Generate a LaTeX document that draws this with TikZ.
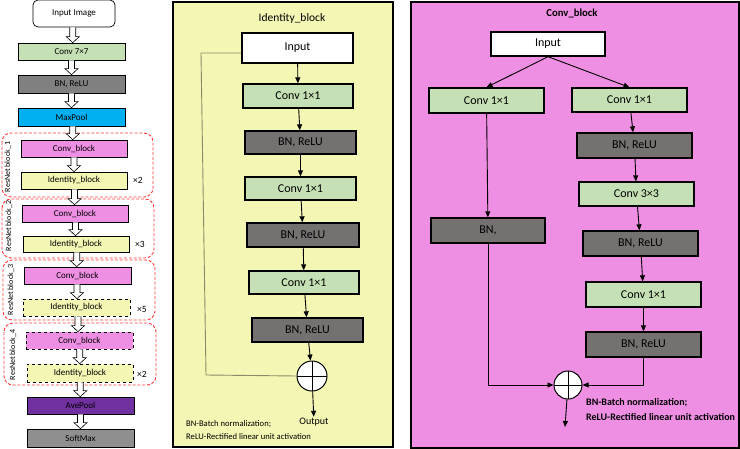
\documentclass[tikz,border=0pt]{standalone}
\usepackage{fontspec}
\setmainfont{Carlito}
\usetikzlibrary{arrows.meta,calc}

\definecolor{convgreen}{HTML}{C5E0B4}
\definecolor{bngray}{HTML}{767171}
\definecolor{leftgray}{HTML}{808080}
\definecolor{smgray}{HTML}{8F8F8F}
\definecolor{poolblue}{HTML}{00B0F0}
\definecolor{pooppurple}{HTML}{7030A0}
\definecolor{cbpink}{HTML}{EE8FE3}
\definecolor{idyellow}{HTML}{F4F6B4}
\definecolor{boxred}{HTML}{FF3B3B}
\definecolor{skipgray}{HTML}{8A8A6A}

% hollow arrow between two boxes of the left column
\newcommand{\hollowarrow}[2]{%
  \draw[harrow] let \p1=(#1.south), \p2=(#2.north), \p3=($(\p1)!0.5!(\p2)$) in
    (\x3-3pt,\y1) -- (\x3-3pt,\y2+6pt) -- (\x3-6.5pt,\y2+6pt) -- (\x3,\y2)
    -- (\x3+6.5pt,\y2+6pt) -- (\x3+3pt,\y2+6pt) -- (\x3+3pt,\y1);
}

\begin{document}
\begin{tikzpicture}[x=1pt,y=-1pt,
  lbox/.style={draw,line width=0.7pt,minimum width=107pt,minimum height=17pt,inner sep=0pt,font=\fontsize{9}{10}\selectfont},
  pbox/.style={draw,line width=1.3pt,minimum width=112pt,minimum height=24pt,inner sep=0pt,font=\fontsize{12}{13}\selectfont},
  sumnode/.style={draw,line width=1pt,circle,fill=white,minimum size=30pt,inner sep=0pt,
    path picture={\draw[line width=0.6pt] (path picture bounding box.north) -- (path picture bounding box.south)
      (path picture bounding box.west) -- (path picture bounding box.east);}},
  flow/.style={-{Triangle[length=6pt,width=5pt]},line width=0.9pt},
  harrow/.style={fill=white,line width=0.6pt},
  redbox/.style={draw=boxred,dash pattern=on 3pt off 1.8pt,line width=0.9pt,rounded corners=9pt},
  panel/.style={draw,line width=1.3pt},
  skipline/.style={draw=skipgray,line width=0.9pt},
  note/.style={anchor=west,inner sep=0pt,font=\fontsize{8.6}{10}\selectfont},
  blocklabel/.style={rotate=90,font=\fontsize{8}{9}\selectfont},
]
\useasboundingbox (0,0) rectangle (740,448);

% left column
\draw[redbox] (2,133) rectangle (153,197);
\draw[redbox] (2,199) rectangle (154,258);
\draw[redbox] (3,260) rectangle (155,320);
\draw[redbox] (4,323) rectangle (156,385);
\node[blocklabel] at (8,167) {ResNet block\_1};
\node[blocklabel] at (9,226) {ResNet block\_2};
\node[blocklabel] at (11,290) {ResNet block\_3};
\node[blocklabel] at (13,355) {ResNet block\_4};

\node[lbox,fill=white,rounded corners=5pt,minimum width=82pt,minimum height=27pt] (img) at (74,13.5) {Input Image};
\node[lbox,fill=convgreen] (c7) at (71.5,51.5) {Conv 7×7};
\node[lbox,fill=leftgray,minimum height=18pt] (bn0) at (71.5,84) {BN, ReLU};
\node[lbox,fill=poolblue,minimum height=18pt] (mp) at (71.5,117) {MaxPool};
\node[lbox,fill=cbpink,minimum width=106pt] (cb1) at (74,148.5) {Conv\_block};
\node[lbox,fill=idyellow,minimum width=106pt] (ib1) at (74,180.5) {Identity\_block};
\node[lbox,fill=cbpink,minimum width=106pt] (cb2) at (75,213.5) {Conv\_block};
\node[lbox,fill=idyellow,minimum width=106pt,minimum height=16pt] (ib2) at (76,244) {Identity\_block};
\node[lbox,fill=cbpink] (cb3) at (77.5,275.5) {Conv\_block};
\node[lbox,fill=idyellow,dashed] (ib3) at (76.5,307.5) {Identity\_block};
\node[lbox,fill=cbpink,dashed] (cb4) at (79.5,340.5) {Conv\_block};
\node[lbox,fill=idyellow,dashed,minimum width=106pt,minimum height=18pt] (ib4) at (80,373) {Identity\_block};
\node[lbox,fill=pooppurple] (ap) at (80.5,405.5) {AvePool};
\node[lbox,fill=smgray,minimum height=18pt] (sm) at (80.5,438) {SoftMax};

\node[font=\fontsize{9.5}{10}\selectfont] (rep1) at (138,180) {×2};
\node[font=\fontsize{9.5}{10}\selectfont] (rep2) at (140,244) {×3};
\node[font=\fontsize{9.5}{10}\selectfont] (rep3) at (142,309) {×5};
\node[font=\fontsize{9.5}{10}\selectfont] (rep4) at (142,374) {×2};

\hollowarrow{img}{c7}
\hollowarrow{c7}{bn0}
\hollowarrow{bn0}{mp}
\hollowarrow{mp}{cb1}
\hollowarrow{cb1}{ib1}
\hollowarrow{ib1}{cb2}
\hollowarrow{cb2}{ib2}
\hollowarrow{ib2}{cb3}
\hollowarrow{cb3}{ib3}
\hollowarrow{ib3}{cb4}
\hollowarrow{cb4}{ib4}
\hollowarrow{ib4}{ap}
\hollowarrow{ap}{sm}

% identity block
\draw[panel,fill=idyellow] (173,2) rectangle (393,447);
\node[font=\fontsize{11.5}{12}\selectfont] (idtitle) at (292,18) {Identity\_block};
\node[pbox,fill=white,minimum width=111pt,minimum height=30pt] (idin) at (297.5,48) {Input};
\node[pbox,fill=convgreen,minimum width=110pt] (idconvA) at (298,96) {Conv 1×1};
\node[pbox,fill=bngray,minimum width=111pt,minimum height=23pt] (idbnA) at (300.5,142.5) {BN, ReLU};
\node[pbox,fill=convgreen,minimum width=111pt,minimum height=23pt] (idconvB) at (300.5,188.5) {Conv 1×1};
\node[pbox,fill=bngray] (idbnB) at (303,235) {BN, ReLU};
\node[pbox,fill=convgreen,minimum width=110pt,minimum height=23pt] (idconvC) at (304,282.5) {Conv 1×1};
\node[pbox,fill=bngray,minimum width=111pt] (idbnC) at (307.5,330) {BN, ReLU};
\node[sumnode] (idsum) at (312,376) {};
\node[font=\fontsize{10}{11}\selectfont,inner sep=1pt] (idout) at (314,422) {Output};
\coordinate (skipA) at (201,53);
\coordinate (skipB) at (206,375);

\draw[flow] (idin) -- (idconvA);
\draw[flow] (idconvA) -- (idbnA);
\draw[flow] (idbnA) -- (idconvB);
\draw[flow] (idconvB) -- (idbnB);
\draw[flow] (idbnB) -- (idconvC);
\draw[flow] (idconvC) -- (idbnC);
\draw[flow] (idbnC) -- (idsum);
\draw[flow] (idsum) -- (idout);
\draw[skipline] ([yshift=-5pt]idin.west) -- (skipA) -- (skipB) -- (idsum.west);

\node[note] (idnoteA) at (186,424) {BN-Batch normalization;};
\node[note] (idnoteB) at (186,437) {ReLU-Rectified linear unit activation};

% conv block
\draw[panel,fill=cbpink] (411,2) rectangle (739,448);
\node[font=\bfseries\fontsize{10.7}{11}\selectfont] (cvtitle) at (572,13) {Conv\_block};
\node[pbox,fill=white,minimum width=114pt] (cvin) at (548,44) {Input};
\node[pbox,fill=convgreen,minimum width=115pt,minimum height=25pt] (cvL1) at (486.5,100.5) {Conv 1×1};
\node[pbox,fill=bngray,minimum width=114pt,minimum height=25pt] (cvL2) at (488,230.5) {BN,};
\node[pbox,fill=convgreen,minimum width=115pt] (cvR1) at (629.5,100) {Conv 1×1};
\node[pbox,fill=bngray,minimum width=115pt,minimum height=25pt] (cvR2) at (634.5,145.5) {BN, ReLU};
\node[pbox,fill=convgreen,minimum width=115pt] (cvR3) at (636.5,194) {Conv 3×3};
\node[pbox,fill=bngray,minimum width=115pt,minimum height=25pt] (cvR4) at (640.5,243.5) {BN, ReLU};
\node[pbox,fill=convgreen,minimum width=115pt,minimum height=25pt] (cvR5) at (643.5,294.5) {Conv 1×1};
\node[pbox,fill=bngray,minimum width=115pt,minimum height=25pt] (cvR6) at (643.5,344.5) {BN, ReLU};
\node[sumnode,minimum size=28pt] (cvsum) at (568,385) {};
\coordinate (cvout) at (565,427);

\draw[flow] (cvin.south) -- (cvL1.north);
\draw[flow] (cvin.south) -- (cvR1.north);
\draw[flow] (cvL1) -- (cvL2);
\draw[flow] (cvR1) -- (cvR2);
\draw[flow] (cvR2) -- (cvR3);
\draw[flow] (cvR3) -- (cvR4);
\draw[flow] (cvR4) -- (cvR5);
\draw[flow] (cvR5) -- (cvR6);
\draw[flow] (cvL2.south) |- (cvsum.west);
\draw[flow] (cvR6.south) |- (cvsum.east);
\draw[flow] (cvsum) -- (cvout);

\node[note,font=\bfseries\fontsize{10}{11}\selectfont] (cvnoteA) at (586,403) {BN-Batch normalization;};
\node[note,font=\bfseries\fontsize{10}{11}\selectfont] (cvnoteB) at (586,417) {ReLU-Rectified linear unit activation};
\end{tikzpicture}
\end{document}
